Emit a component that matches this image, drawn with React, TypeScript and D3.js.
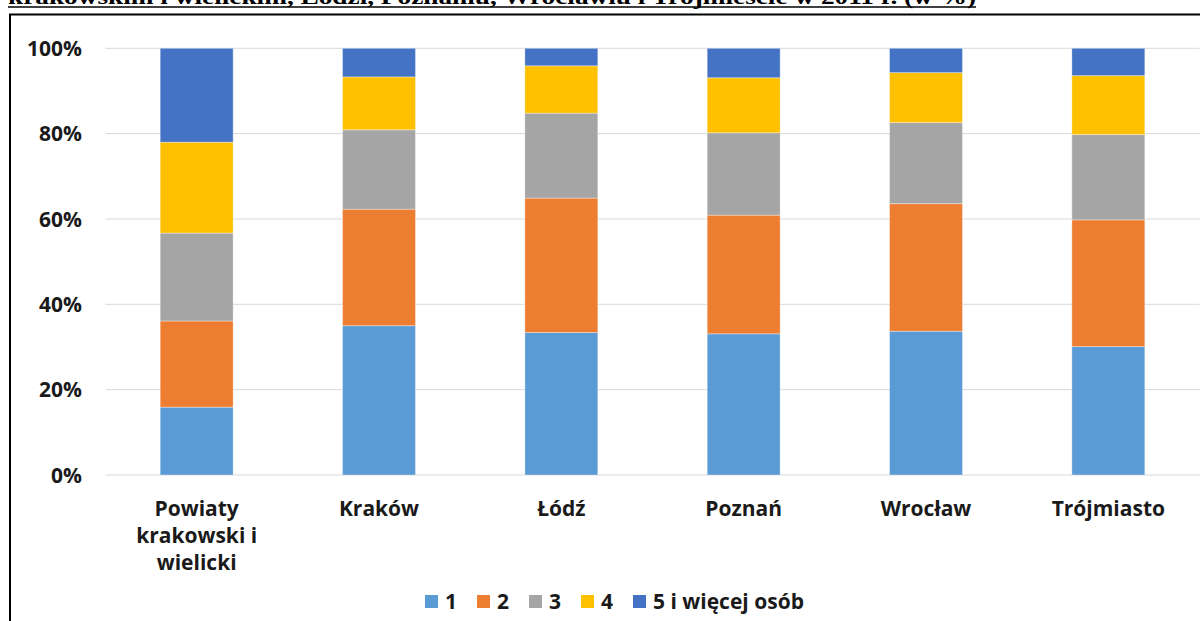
import React from "react";
import * as d3 from "d3";

const categories = ["Powiaty krakowski i wielicki", "Kraków", "Łódź", "Poznań", "Wrocław", "Trójmiasto"];
const categoryLines = [["Powiaty", "krakowski i", "wielicki"], ["Kraków"], ["Łódź"], ["Poznań"], ["Wrocław"], ["Trójmiasto"]];
const seriesNames = ["1", "2", "3", "4", "5 i więcej osób"];
const s1 = [15.9, 35.0, 33.4, 33.1, 33.7, 30.1];
const s2 = [20.2, 27.3, 31.5, 27.8, 29.9, 29.7];
const s3 = [20.6, 18.6, 19.9, 19.3, 19.0, 20.0];
const s4 = [21.3, 12.4, 11.1, 12.9, 11.7, 13.8];
const s5 = [22.0, 6.7, 4.1, 6.9, 5.7, 6.4];
const yTicks = [0, 20, 40, 60, 80, 100];
const colors = ["#5B9BD5", "#ED7D31", "#A5A5A5", "#FFC000", "#4472C4"];
const title = "krakowskim i wielickim, Łodzi, Poznaniu, Wrocławiu i Trójmieście w 2011 r. (w %)";

const W = 1200;
const H = 621;
const FONT = "'Open Sans', Lato, sans-serif";
const FS = 21;

export default function App() {
  const seriesValues = [s1, s2, s3, s4, s5];
  const rows = categories.map((c, i) => {
    const r: any = { cat: c };
    seriesNames.forEach((s, k) => (r[s] = seriesValues[k][i]));
    return r;
  });
  const stacked = d3.stack().keys(seriesNames)(rows);

  const x = d3.scaleBand().domain(categories).range([105.5, 1199.5]).paddingInner(0.6).paddingOuter(0.3);
  const y = d3.scaleLinear().domain([0, 100]).range([475, 48.3]);

  const legendX = d3.scaleOrdinal<string, number>().domain(seriesNames).range([425, 477, 529, 581, 633]);

  return (
    <svg width={W} height={H} style={{ position: "absolute", left: 0, top: 0, background: "#fff" }}>
      <text x={8} y={4} fontFamily="'Liberation Serif', serif" fontWeight="bold" fontSize={20}
        textLength={968} lengthAdjust="spacingAndGlyphs" fill="#000">{title}</text>
      <line x1={8} x2={976} y1={7} y2={7} stroke="#000" strokeWidth={1.5} />
      <rect x={10} y={14.5} width={1300} height={700} fill="none" stroke="#000" strokeWidth={2} />

      {yTicks.map((t) => (
        <g key={t}>
          <line x1={105.5} x2={1199.5} y1={y(t)} y2={y(t)} stroke="#D9D9D9" strokeWidth={1} />
          <text x={82} y={y(t)} dy="0.36em" textAnchor="end" fontFamily={FONT} fontWeight="bold" fontSize={FS} fill="#1a1a1a">
            {t}%
          </text>
        </g>
      ))}

      {stacked.map((layer, k) => (
        <g key={layer.key} fill={colors[k]}>
          {layer.map((d, i) => (
            <rect key={i} x={x(categories[i])} y={y(d[1])} width={x.bandwidth()} height={y(d[0]) - y(d[1])}
              stroke="#ffffff" strokeOpacity={0.35} strokeWidth={1} />
          ))}
        </g>
      ))}

      {categories.map((c, i) => (
        <text key={c} x={(x(c) as number) + x.bandwidth() / 2} y={516} textAnchor="middle"
          fontFamily={FONT} fontWeight="bold" fontSize={FS} fill="#1a1a1a">
          {categoryLines[i].map((ln, j) => (
            <tspan key={j} x={(x(c) as number) + x.bandwidth() / 2} dy={j === 0 ? 0 : 27}>{ln}</tspan>
          ))}
        </text>
      ))}

      {seriesNames.map((s, k) => (
        <g key={s}>
          <rect x={legendX(s)} y={595} width={13} height={13} fill={colors[k]} />
          <text x={legendX(s) + 20} y={601.5} dy="0.36em" fontFamily={FONT} fontWeight="bold" fontSize={FS} fill="#1a1a1a">{s}</text>
        </g>
      ))}
    </svg>
  );
}
